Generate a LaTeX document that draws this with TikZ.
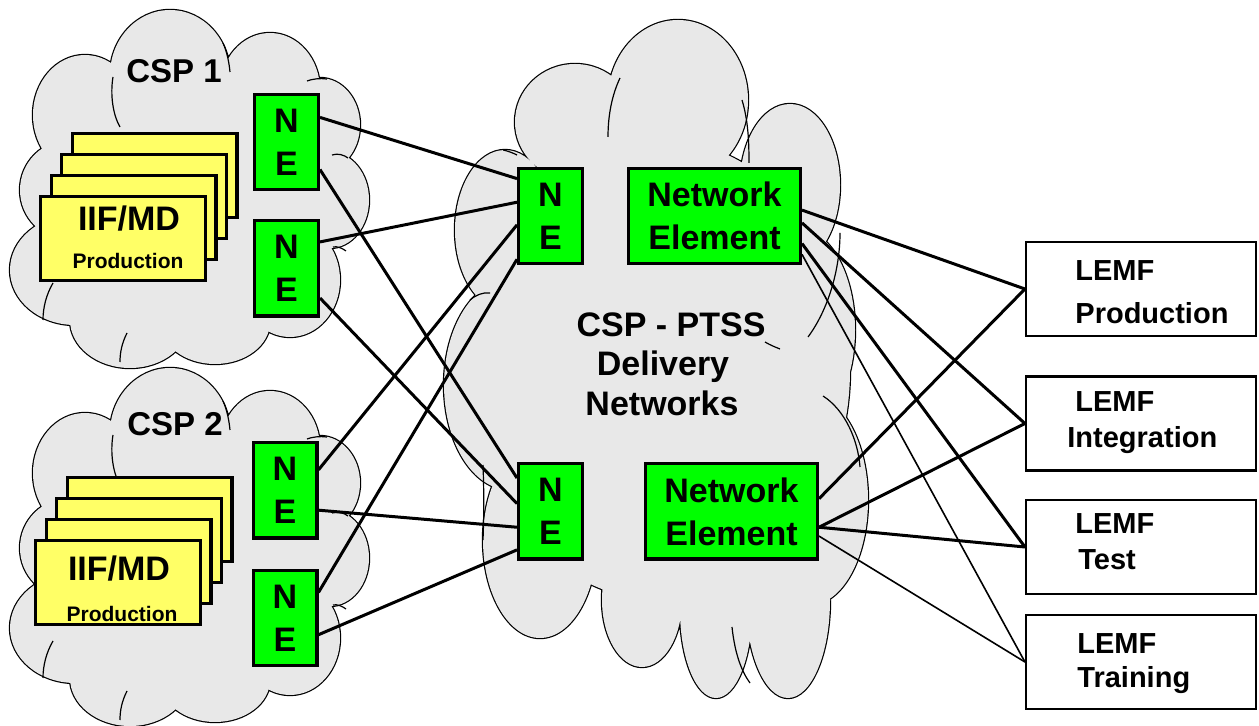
\documentclass[tikz,border=0pt]{standalone}
\usepackage{fontspec}
\setmainfont{Liberation Sans}
\usetikzlibrary{calc}
\definecolor{cloudgray}{HTML}{E8E8E8}
\definecolor{negreen}{HTML}{00FF00}
\definecolor{iifyellow}{HTML}{FFFF66}
\begin{document}
\begin{tikzpicture}[x=0.5pt,y=-0.5pt,
  cloudedge/.style={draw=black,line width=1.2pt},
  cloudfill/.style={fill=cloudgray},
  cloudarc/.style={draw=black,line width=0.6pt},
  nebox/.style={draw, line width=1.6pt, fill=negreen, inner sep=0pt, align=center,
    minimum width=31.9pt, minimum height=47.6pt, font=\fontsize{17}{21.5}\selectfont\bfseries},
  netbox/.style={nebox, minimum width=85.9pt},
  iifbox/.style={draw, line width=1.6pt, fill=iifyellow, inner sep=0pt, minimum width=82.4pt, minimum height=41.9pt},
  lemfbox/.style={draw, line width=1.25pt, fill=white, inner sep=0pt, minimum width=114.8pt, minimum height=46.8pt},
  link/.style={line width=1.5pt},
  thinlink/.style={line width=0.8pt},
  csplabel/.style={inner sep=0pt, font=\fontsize{16.5}{20}\selectfont\bfseries},
  iiftext/.style={inner sep=0pt, font=\fontsize{17}{20}\selectfont\bfseries},
  prodtext/.style={inner sep=0pt, font=\fontsize{10.5}{12}\selectfont\bfseries},
  bigtext/.style={inner sep=0pt, anchor=base, font=\fontsize{17}{20}\selectfont\bfseries},
  lemftext/.style={inner sep=0pt, anchor=base west, font=\fontsize{14.5}{17}\selectfont\bfseries}
]
\useasboundingbox (0,0) rectangle (1259,726);

% ---------- clouds ----------
\def\sidecloud{(170,75) ellipse [x radius=60,y radius=65]
  (270,90) ellipse [x radius=50,y radius=57]
  (320,125) ellipse [x radius=40,y radius=47]
  (330,200) ellipse [x radius=39,y radius=48]
  (290,280) ellipse [x radius=50,y radius=57]
  (215,322) ellipse [x radius=55,y radius=42]
  (130,320) ellipse [x radius=60,y radius=48]
  (75,270) ellipse [x radius=65,y radius=55]
  (70,190) ellipse [x radius=50,y radius=50]
  (85,115) ellipse [x radius=52,y radius=60]
  (190,200) ellipse [x radius=140,y radius=120]}
\def\sidearcs{(113,77) .. controls (110,95) and (113,115) .. (120,127)
  (223,43) .. controls (227,52) and (229,62) .. (230,72)
  (307,81) .. controls (312,79) and (320,78) .. (327,79)
  (332,155) .. controls (338,153) and (344,155) .. (348,158)
  (333,247) .. controls (337,246) and (342,248) .. (346,251)
  (127,333) .. controls (122,343) and (120,352) .. (120,362)
  (53,283) .. controls (46,295) and (43,308) .. (43,320)}
\def\centercloud{(678,100) ellipse [x radius=70,y radius=80]
  (575,122) ellipse [x radius=60,y radius=58]
  (505,230) ellipse [x radius=50,y radius=80]
  (790,185) ellipse [x radius=50,y radius=81]
  (800,330) ellipse [x radius=55,y radius=100]
  (810,500) ellipse [x radius=58,y radius=105]
  (510,385) ellipse [x radius=66,y radius=105]
  (540,540) ellipse [x radius=57,y radius=98]
  (642,600) ellipse [x radius=40,y radius=67]
  (716,610) ellipse [x radius=36,y radius=88]
  (788,600) ellipse [x radius=42,y radius=98]
  (660,370) ellipse [x radius=190,y radius=230]}

\path[cloudedge] \sidecloud;
\path[cloudfill] \sidecloud;
\path[cloudarc] \sidearcs;
\begin{scope}[shift={(0,358)}]
  \path[cloudedge] \sidecloud;
  \path[cloudfill] \sidecloud;
  \path[cloudarc] \sidearcs;
\end{scope}
\path[cloudedge] \centercloud;
\path[cloudfill] \centercloud;
\path[cloudarc] (620,78) .. controls (612,95) and (608,115) .. (608,137)
  (742,100) .. controls (748,120) and (749,140) .. (749,163)
  (808,337) .. controls (828,310) and (840,270) .. (840,233)
  (823,396) .. controls (845,410) and (858,440) .. (860,467)
  (470,300) .. controls (476,295) and (483,292) .. (490,293)
  (483,465) .. controls (484,490) and (484,515) .. (483,540)
  (765,342) .. controls (770,345) and (775,347) .. (780,349)
  (732,627) .. controls (735,655) and (742,672) .. (750,683)
  (503,150) .. controls (508,151) and (513,153) .. (517,155);

% ---------- labels in clouds ----------
\node[csplabel] (csp1) at (174,71) {CSP 1};
\node[csplabel] (csp2) at (175,424) {CSP 2};
\node[bigtext] (ptss1) at (671,337) {CSP - PTSS};
\node[bigtext] (ptss2) at (663,376) {Delivery};
\node[bigtext] (ptss3) at (662,416) {Networks};

% ---------- IIF/MD stacks ----------
\node[iifbox] (ya4) at (154.5,175.5) {};
\node[iifbox] (ya3) at (144,196.5) {};
\node[iifbox] (ya2) at (133.5,217.5) {};
\node[iifbox] (ya1) at (123,238.5) {};
\node[iiftext] (ya1t) at (129,219) {IIF/MD};
\node[prodtext] (ya1p) at (128,261) {Production};

\node[iifbox] (yb4) at (149.5,519.5) {};
\node[iifbox] (yb3) at (139,540.5) {};
\node[iifbox] (yb2) at (128.5,561.5) {};
\node[iifbox] (yb1) at (118,582.5) {};
\node[iiftext] (yb1t) at (119,568.5) {IIF/MD};
\node[prodtext] (yb1p) at (122,614) {Production};

% ---------- NE boxes ----------
\node[nebox] (c1a) at (286.5,142) {N\\E};
\node[nebox] (c1b) at (286.5,268.5) {N\\E};
\node[nebox] (c2a) at (285,490.5) {N\\E};
\node[nebox] (c2b) at (285,618) {N\\E};
\node[nebox] (m1) at (550.5,216) {N\\E};
\node[nebox] (m2) at (550.5,511.5) {N\\E};
\node[netbox] (ne1) at (714.5,216) {Network\\Element};
\node[netbox] (ne2) at (731.5,511.5) {Network\\Element};

% ---------- LEMF boxes ----------
\node[lemfbox] (lp) at (1141,289) {};
\node[lemfbox] (li) at (1141,423.5) {};
\node[lemfbox] (lt) at (1141,547) {};
\node[lemfbox] (ltr) at (1141,662) {};
\node[lemftext] (lpa) at (1075,281) {LEMF};
\node[lemftext] (lpb) at (1075,324) {Production};
\node[lemftext] (lia) at (1075,412) {LEMF};
\node[lemftext] (lib) at (1067,448) {Integration};
\node[lemftext] (lta) at (1075,533.5) {LEMF};
\node[lemftext] (ltb) at (1078,570) {Test};
\node[lemftext] (ltra) at (1077,654) {LEMF};
\node[lemftext] (ltrb) at (1077,688) {Training};

% ---------- connection points ----------
\coordinate (c1aN) at ($(c1a.north east)!0.25!(c1a.south east)$);
\coordinate (c1aE) at ($(c1a.north east)!0.78!(c1a.south east)$);
\coordinate (c1bN) at ($(c1b.north east)!0.23!(c1b.south east)$);
\coordinate (c1bE) at ($(c1b.north east)!0.80!(c1b.south east)$);
\coordinate (c2aN) at ($(c2a.north east)!0.29!(c2a.south east)$);
\coordinate (c2aE) at ($(c2a.north east)!0.70!(c2a.south east)$);
\coordinate (c2bN) at ($(c2b.north east)!0.24!(c2b.south east)$);
\coordinate (c2bE) at ($(c2b.north east)!0.67!(c2b.south east)$);
\coordinate (m1a) at ($(m1.north west)!0.12!(m1.south west)$);
\coordinate (m1b) at ($(m1.north west)!0.36!(m1.south west)$);
\coordinate (m1c) at ($(m1.north west)!0.59!(m1.south west)$);
\coordinate (m1d) at ($(m1.north west)!0.94!(m1.south west)$);
\coordinate (m2a) at ($(m2.north west)!0.16!(m2.south west)$);
\coordinate (m2b) at ($(m2.north west)!0.42!(m2.south west)$);
\coordinate (m2c) at ($(m2.north west)!0.66!(m2.south west)$);
\coordinate (m2d) at ($(m2.north west)!0.89!(m2.south west)$);
\coordinate (ne1a) at ($(ne1.north east)!0.44!(ne1.south east)$);
\coordinate (ne1b) at ($(ne1.north east)!0.57!(ne1.south east)$);
\coordinate (ne1c) at ($(ne1.north east)!0.78!(ne1.south east)$);
\coordinate (ne1d) at ($(ne1.north east)!0.89!(ne1.south east)$);
\coordinate (ne2a) at ($(ne2.north east)!0.37!(ne2.south east)$);
\coordinate (ne2b) at ($(ne2.north east)!0.66!(ne2.south east)$);
\coordinate (ne2d) at ($(ne2.north east)!0.75!(ne2.south east)$);

% ---------- connectors ----------
\draw[link] (c1aN) -- (m1a);
\draw[link] (c1aE) -- (m2a);
\draw[link] (c1bN) -- (m1b);
\draw[link] (c1bE) -- (m2b);
\draw[link] (c2aN) -- (m1c);
\draw[link] (c2aE) -- (m2c);
\draw[link] (c2bN) -- (m1d);
\draw[link] (c2bE) -- (m2d);

\draw[link] (ne1a) -- (lp.west);
\draw[link] (ne1b) -- (li.west);
\draw[link] (ne1c) -- (lt.west);
\draw[thinlink] (ne1d) -- (ltr.west);
\draw[link] (ne2a) -- (lp.west);
\draw[link] (ne2b) -- (li.west);
\draw[link] (ne2b) -- (lt.west);
\draw[thinlink] (ne2d) -- (ltr.west);
\end{tikzpicture}
\end{document}
